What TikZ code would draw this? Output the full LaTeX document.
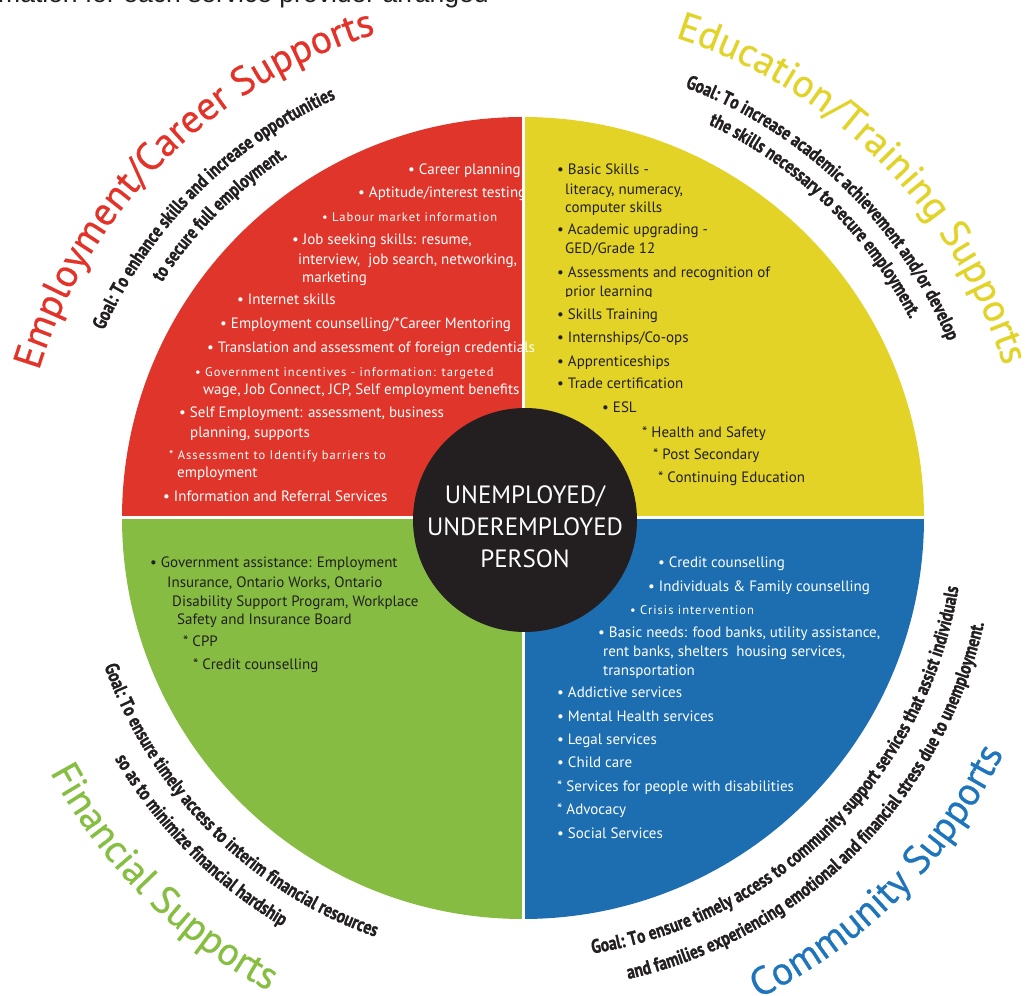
\documentclass[tikz,border=0pt]{standalone}
\usepackage{fontspec}
\setmainfont{PT Sans}
\newfontfamily\goalfont[FakeStretch=0.8,FakeBold=1.2]{PT Sans}
\newfontfamily\titlefont[FakeBold=0.6]{PT Sans}
\newfontfamily\topfont{Liberation Sans}
\usetikzlibrary{decorations.text}
\definecolor{qred}{RGB}{224,53,42}
\definecolor{qyel}{RGB}{226,211,38}
\definecolor{qgrn}{RGB}{134,188,66}
\definecolor{qblu}{RGB}{28,110,176}
\definecolor{tred}{RGB}{228,50,40}
\definecolor{tyel}{RGB}{226,211,40}
\definecolor{tgrn}{RGB}{134,190,66}
\definecolor{tblu}{RGB}{30,117,188}
\definecolor{ink}{RGB}{35,31,32}
\tikzset{
  item/.style={anchor=mid west, inner sep=0pt, yshift=-2pt, font=\fontsize{15}{17}\selectfont},
  wt/.style={item, text=white},
  dk/.style={item, text=ink},
  spaced/.style={font=\fontsize{12.5}{15}\selectfont\addfontfeature{LetterSpace=8}},
  hubdisc/.style={circle, fill=ink, minimum size=224pt, inner sep=0pt},
  hubtext/.style={text=white, align=center, inner sep=0pt, font=\fontsize{25}{32}\selectfont},
  goal/.style={decorate, decoration={text along path, text align=center, text color=ink,
      text={|\goalfont\bfseries\fontsize{19.5}{22}\selectfont|#1}}},
  title/.style 2 args={decorate, decoration={text along path, text align=center, text color=#1,
      text={|\titlefont\fontsize{39.5}{44}\selectfont|#2}}},
}
\begin{document}
\begin{tikzpicture}[x=1pt,y=1pt]
\useasboundingbox (0,0) rectangle (1026,996);
\clip (0,0) rectangle (1026,996);
\coordinate (C) at (523,478);
% quadrants
\fill[qred] (C) -- ([shift={(180:401)}]C) arc[start angle=180,end angle=90,radius=401] -- cycle;
\fill[qyel] (C) -- ([shift={(90:401)}]C) arc[start angle=90,end angle=0,radius=401] -- cycle;
\fill[qblu] (C) -- ([shift={(0:401)}]C) arc[start angle=0,end angle=-90,radius=401] -- cycle;
\fill[qgrn] (C) -- ([shift={(-90:401)}]C) arc[start angle=-90,end angle=-180,radius=401] -- cycle;
\draw[white, line width=3pt] ([shift={(-403,0)}]C) -- ([shift={(403,0)}]C);
\draw[white, line width=3pt] ([shift={(0,-403)}]C) -- ([shift={(0,403)}]C);
% hub
\node[hubdisc] (hub) at (525,476) {};
\node[hubtext] (hubt) at (525,469) {UNEMPLOYED/\\UNDEREMPLOYED\\PERSON};
% header fragment
\node[anchor=base west, inner sep=0pt, font=\topfont\fontsize{26.5}{28}\selectfont, text=ink] (hdr) at (-2,993) {mation for each service provider arranged};
% red quadrant
\node[wt] (r1) at (408,826) {• Career planning};
\node[wt] (r2) at (358,803) {• Aptitude/interest testing};
\node[wt,spaced] (r3) at (322,779) {• Labour market information};
\node[wt] (r4) at (292,756) {• Job seeking skills: resume,};
\node[wt] (r5) at (298,736) {interview,\ \ job search, networking,};
\node[wt] (r6) at (302,718) {marketing};
\node[wt] (r7) at (237,696) {• Internet skills};
\node[wt] (r8) at (220,672) {• Employment counselling/*Career Mentoring};
\node[wt] (r9) at (207,648) {• Translation and assessment of foreign credentials};
\node[wt,spaced] (r10) at (195,624) {• Government incentives - information: targeted};
\node[wt] (r11) at (203,606) {wage, Job Connect, JCP, Self employment benefits};
\node[wt] (r12) at (179,583) {• Self Employment: assessment, business};
\node[wt] (r13) at (190,563) {planning, supports};
\node[wt,spaced] (r14) at (169,541) {* Assessment to Identify barriers to};
\node[wt] (r15) at (177,523) {employment};
\node[wt] (r16) at (163,499) {• Information and Referral Services};
% yellow quadrant
\node[dk] (y1) at (557,826) {• Basic Skills -};
\node[dk] (y2) at (565,806) {literacy, numeracy,};
\node[dk] (y3) at (565,788) {computer skills};
\node[dk] (y4) at (557,766) {• Academic upgrading -};
\node[dk] (y5) at (565,747) {GED/Grade 12};
\node[dk] (y6) at (557,723) {• Assessments and recognition of};
\begin{scope}
\clip (555,699) rectangle (720,725);
\node[dk] (y7) at (565,704) {prior learning};
\end{scope}
\node[dk] (y8) at (557,681) {• Skills Training};
\node[dk] (y9) at (557,658) {• Internships/Co-ops};
\node[dk] (y10) at (557,634) {• Apprenticeships};
\node[dk] (y11) at (557,612) {• Trade certification};
\node[dk] (y12) at (602,588) {• ESL};
\node[dk] (y13) at (642,563) {* Health and Safety};
\node[dk] (y14) at (653,541) {* Post Secondary};
\node[dk] (y15) at (658,518) {* Continuing Education};
% green quadrant
\node[dk] (g1) at (150,433) {• Government assistance: Employment};
\node[dk] (g2) at (167,413) {Insurance, Ontario Works, Ontario};
\node[dk] (g3) at (172,394) {Disability Support Program, Workplace};
\node[dk] (g4) at (177,376) {Safety and Insurance Board};
\node[dk] (g5) at (183,354) {* CPP};
\node[dk] (g6) at (193,331) {* Credit counselling};
% blue quadrant
\node[wt] (b1) at (658,433) {• Credit counselling};
\node[wt] (b2) at (648,409) {• Individuals \& Family counselling};
\begin{scope}
\clip (620,381.5) rectangle (800,400);
\node[wt,spaced] (b3) at (630,386) {• Crisis intervention};
\end{scope}
\node[wt] (b4) at (598,363) {• Basic needs: food banks, utility assistance,};
\node[wt] (b5) at (603,344) {rent banks, shelters\ \ housing services,};
\node[wt] (b6) at (603,325) {transportation};
\node[wt] (b7) at (557,303) {• Addictive services};
\node[wt] (b8) at (557,279) {• Mental Health services};
\node[wt] (b9) at (557,256) {• Legal services};
\node[wt] (b10) at (557,233) {• Child care};
\node[wt] (b11) at (557,209) {* Services for people with disabilities};
\node[wt] (b12) at (557,186) {* Advocacy};
\node[wt] (b13) at (557,162) {• Social Services};
% titles
\path[title={tred}{Employment/Career Supports}] ([shift={(175:506)}]C) arc[start angle=175,end angle=95,radius=506];
\path[title={tyel}{Education/Training Supports}] ([shift={(85:504)}]C) arc[start angle=85,end angle=5,radius=504];
\path[title={tblu}{Community Supports}] ([shift={(-85:535)}]C) arc[start angle=-85,end angle=-5,radius=535];
\path[title={tgrn}{Financial Supports}] ([shift={(185:537)}]C) arc[start angle=185,end angle=265,radius=537];
% goals
\path[goal={Goal: To enhance skills and increase opportunities}] ([shift={(180:459)}]C) arc[start angle=180,end angle=90,radius=459];
\path[goal={to secure full employment.}] ([shift={(180:431)}]C) arc[start angle=180,end angle=90,radius=431];
\path[goal={Goal: To increase academic achievement and/or develop}] ([shift={(91:460)}]C) arc[start angle=91,end angle=1,radius=460];
\path[goal={the skills necessary to secure employment.}] ([shift={(91:435)}]C) arc[start angle=91,end angle=1,radius=435];
\path[goal={Goal: To ensure timely access to interim financial resources}] ([shift={(180:444)}]C) arc[start angle=180,end angle=270,radius=444];
\path[goal={so as to minimize financial hardship}] ([shift={(180:474)}]C) arc[start angle=180,end angle=270,radius=474];
\path[goal={Goal: To ensure timely access to community support services that assist individuals}] ([shift={(-100:441)}]C) arc[start angle=-100,end angle=10,radius=441];
\path[goal={and families experiencing emotional and financial stress due to unemployment.}] ([shift={(-100:473)}]C) arc[start angle=-100,end angle=10,radius=473];
\end{tikzpicture}
\end{document}
